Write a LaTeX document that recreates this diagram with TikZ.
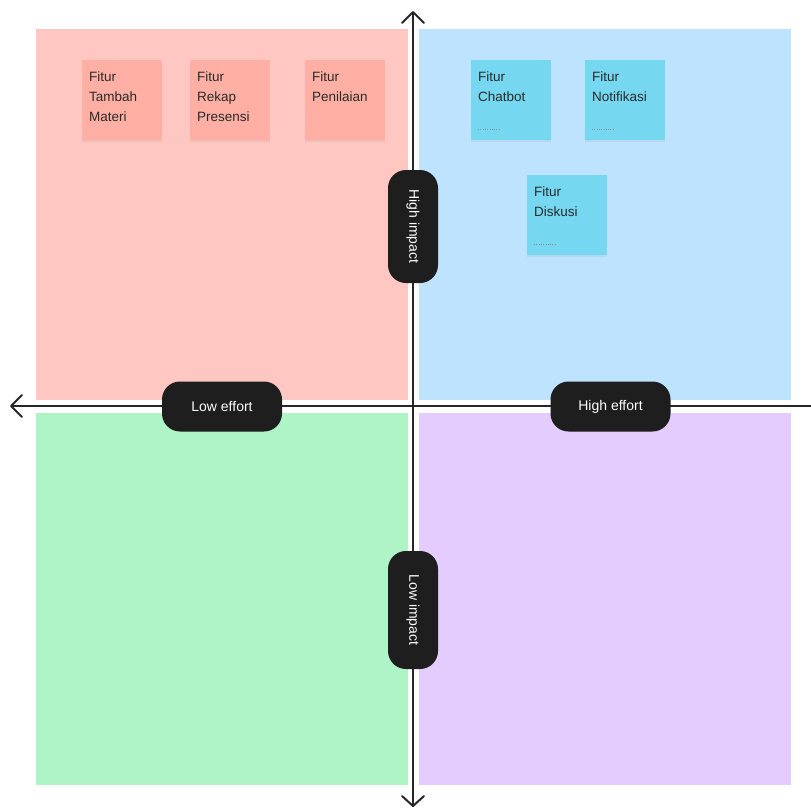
\documentclass[tikz,border=0pt]{standalone}
\usepackage{fontspec}
\setmainfont{Liberation Sans}
\usetikzlibrary{shadows,arrows.meta,calc}
\definecolor{qpink}{HTML}{FFC7C2}
\definecolor{qblue}{HTML}{BDE3FF}
\definecolor{qgreen}{HTML}{AFF4C6}
\definecolor{qpurple}{HTML}{E4CCFF}
\definecolor{spink}{HTML}{FFAFA3}
\definecolor{sblue}{HTML}{75D7F0}
\definecolor{pillbg}{HTML}{1E1E1E}
\definecolor{inkdark}{HTML}{2A2A2A}
\begin{document}
\begin{tikzpicture}[x=1pt,y=-1pt,
  quad/.style={fill=#1,draw=none},
  sticky/.style={fill=#1,draw=none,minimum width=80pt,minimum height=80pt,inner sep=0pt,
    drop shadow={shadow xshift=0pt,shadow yshift=-1.5pt,opacity=0.12}},
  stickytext/.style={anchor=north west,align=left,inner sep=0pt,text=inkdark,
    font=\fontsize{13.5}{20}\selectfont},
  pill/.style={fill=pillbg,rounded corners=18pt,text=white,inner sep=0pt,
    font=\fontsize{14}{16}\selectfont},
  axis/.style={line width=2pt,draw=black!85},
  chev/.style={line width=2pt,draw=black!85,line cap=round,line join=round},
]
\useasboundingbox (0,0) rectangle (811,807);
\fill[white] (0,0) rectangle (811,807);

% quadrants
\fill[quad=qpink]   (36,29)  rectangle (408,400);
\fill[quad=qblue]   (419,29) rectangle (791,400);
\fill[quad=qgreen]  (36,413) rectangle (408,785);
\fill[quad=qpurple] (419,413) rectangle (791,785);

% axes
\coordinate (xl) at (11,406);
\coordinate (xr) at (811,406);
\coordinate (yt) at (413,12);
\coordinate (yb) at (413,807);
\draw[axis] (xl) -- (xr);
\draw[axis] (yt) -- (yb);
\draw[chev] ($(xl)+(11,-11)$) -- (xl) -- ($(xl)+(11,11)$);
\draw[chev] ($(yt)+(-11,11)$) -- (yt) -- ($(yt)+(11,11)$);
\draw[chev] ($(yb)+(-11,-11)$) -- ($(yb)+(0,-1)$) -- ($(yb)+(11,-11)$);

% axis labels
\node[pill,minimum width=120pt,minimum height=50pt] (loweff) at (222,406.5) {Low effort};
\node[pill,minimum width=120pt,minimum height=50pt] (higheff) at (610.5,406.5) {High effort};
\node[pill,minimum width=113pt,minimum height=50pt,rotate=-90] (highimp) at (413,226.5) {High impact};
\node[pill,minimum width=118pt,minimum height=50pt,rotate=-90] (lowimp) at (413,610) {Low impact};

% sticky notes
\node[sticky=spink,anchor=north west] (s1) at (82,60) {};
\node[sticky=spink,anchor=north west] (s2) at (190,60) {};
\node[sticky=spink,anchor=north west] (s3) at (305,60) {};
\node[sticky=sblue,anchor=north west] (s4) at (471,60) {};
\node[sticky=sblue,anchor=north west] (s5) at (585,60) {};
\node[sticky=sblue,anchor=north west] (s6) at (527,175) {};

\node[stickytext] (t1) at ($(s1.north west)+(7,12)$) {Fitur\\Tambah\\Materi};
\node[stickytext] (t2) at ($(s2.north west)+(7,12)$) {Fitur\\Rekap\\Presensi};
\node[stickytext] (t3) at ($(s3.north west)+(7,12)$) {Fitur\\Penilaian};
\node[stickytext] (t4) at ($(s4.north west)+(7,12)$) {Fitur\\Chatbot};
\node[stickytext] (t5) at ($(s5.north west)+(7,12)$) {Fitur\\Notifikasi};
\node[stickytext] (t6) at ($(s6.north west)+(7,12)$) {Fitur\\Diskusi};

% faint footer marks on the blue notes
\foreach \s in {s4,s5,s6}
  \draw[black!45,line width=0.7pt,dash pattern=on 1pt off 1.3pt]
    ($(\s.south west)+(7,-11)$) -- ($(\s.south west)+(29,-11)$);
\end{tikzpicture}
\end{document}
